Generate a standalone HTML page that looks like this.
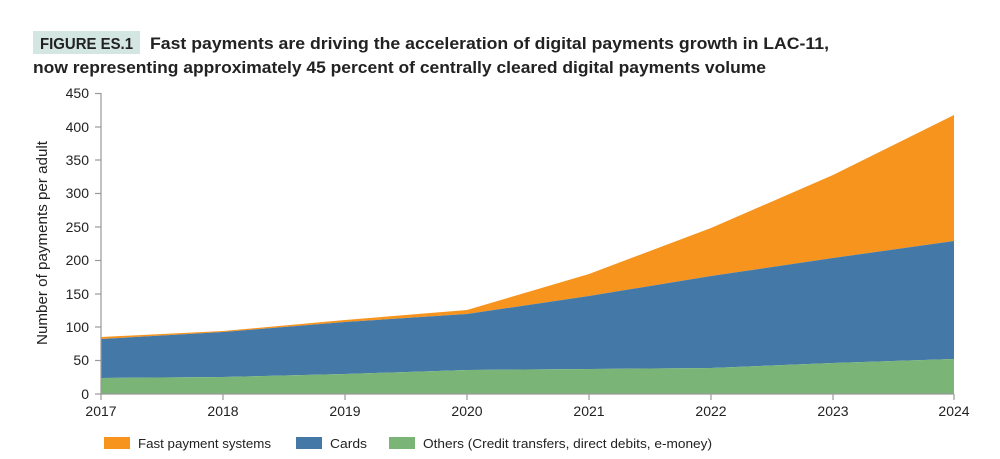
<!DOCTYPE html>
<html><head><meta charset="utf-8"><style>
body{margin:0;background:#fff;}
svg{display:block;font-family:"Liberation Sans",sans-serif;}
</style></head><body>
<svg width="1000" height="459" viewBox="0 0 1000 459">
<rect x="33" y="31" width="107" height="23" fill="#d3e6e2"/>
<text x="40" y="49" font-size="16" font-weight="bold" fill="#222" textLength="93" lengthAdjust="spacingAndGlyphs">FIGURE ES.1</text>
<text x="150" y="49" font-size="17" font-weight="bold" fill="#222" textLength="679" lengthAdjust="spacingAndGlyphs">Fast payments are driving the acceleration of digital payments growth in LAC-11,</text>
<text x="33" y="73" font-size="17" font-weight="bold" fill="#222" textLength="733" lengthAdjust="spacingAndGlyphs">now representing approximately 45 percent of centrally cleared digital payments volume</text>

<polygon fill="#f7941d" points="101,337 223,331 345,320 467,310 589,274 711,228 833,175 954,115 954,241 833,258 711,276 589,296 467,314 345,322 223,332 101,339"/>
<polygon fill="#4479a7" points="101,339 223,332 345,322 467,314 589,296 711,276 833,258 954,241 954,359 833,363 711,368 589,369 467,370 345,374 223,377 101,378"/>
<polygon fill="#7ab577" points="101,378 223,377 345,374 467,370 589,369 711,368 833,363 954,359 954,394 101,394"/>

<g stroke="#999" stroke-width="1.2">
<line x1="101" y1="93" x2="101" y2="394"/>
<line x1="101" y1="394" x2="954" y2="394"/>
<line x1="95" y1="93.5" x2="101" y2="93.5"/>
<line x1="95" y1="127" x2="101" y2="127"/>
<line x1="95" y1="160" x2="101" y2="160"/>
<line x1="95" y1="193.5" x2="101" y2="193.5"/>
<line x1="95" y1="227" x2="101" y2="227"/>
<line x1="95" y1="260.5" x2="101" y2="260.5"/>
<line x1="95" y1="294" x2="101" y2="294"/>
<line x1="95" y1="327" x2="101" y2="327"/>
<line x1="95" y1="360.5" x2="101" y2="360.5"/>
<line x1="95" y1="394" x2="101" y2="394"/>
<line x1="101" y1="394" x2="101" y2="400"/>
<line x1="223" y1="394" x2="223" y2="400"/>
<line x1="345" y1="394" x2="345" y2="400"/>
<line x1="467" y1="394" x2="467" y2="400"/>
<line x1="589" y1="394" x2="589" y2="400"/>
<line x1="711" y1="394" x2="711" y2="400"/>
<line x1="833" y1="394" x2="833" y2="400"/>
<line x1="954" y1="394" x2="954" y2="400"/>
</g>
<g font-size="14" fill="#222" text-anchor="end">
<text x="89" y="98">450</text><text x="89" y="132">400</text><text x="89" y="165">350</text>
<text x="89" y="198">300</text><text x="89" y="232">250</text><text x="89" y="265">200</text>
<text x="89" y="299">150</text><text x="89" y="332">100</text><text x="89" y="365">50</text>
<text x="89" y="399">0</text>
</g>
<g font-size="14" fill="#222" text-anchor="middle">
<text x="101" y="416">2017</text><text x="223" y="416">2018</text><text x="345" y="416">2019</text>
<text x="467" y="416">2020</text><text x="589" y="416">2021</text><text x="711" y="416">2022</text>
<text x="833" y="416">2023</text><text x="954" y="416">2024</text>
</g>
<text transform="translate(47,243) rotate(-90)" font-size="14.5" fill="#222" text-anchor="middle" textLength="204" lengthAdjust="spacingAndGlyphs">Number of payments per adult</text>

<rect x="104" y="437" width="26" height="12" fill="#f7941d"/>
<text x="138" y="448" font-size="13" fill="#222" textLength="133" lengthAdjust="spacingAndGlyphs">Fast payment systems</text>
<rect x="296" y="437" width="26" height="12" fill="#4479a7"/>
<text x="330" y="448" font-size="13" fill="#222" textLength="37" lengthAdjust="spacingAndGlyphs">Cards</text>
<rect x="389" y="437" width="26" height="12" fill="#7ab577"/>
<text x="423" y="448" font-size="13" fill="#222" textLength="289" lengthAdjust="spacingAndGlyphs">Others (Credit transfers, direct debits, e-money)</text>
</svg>
</body></html>
